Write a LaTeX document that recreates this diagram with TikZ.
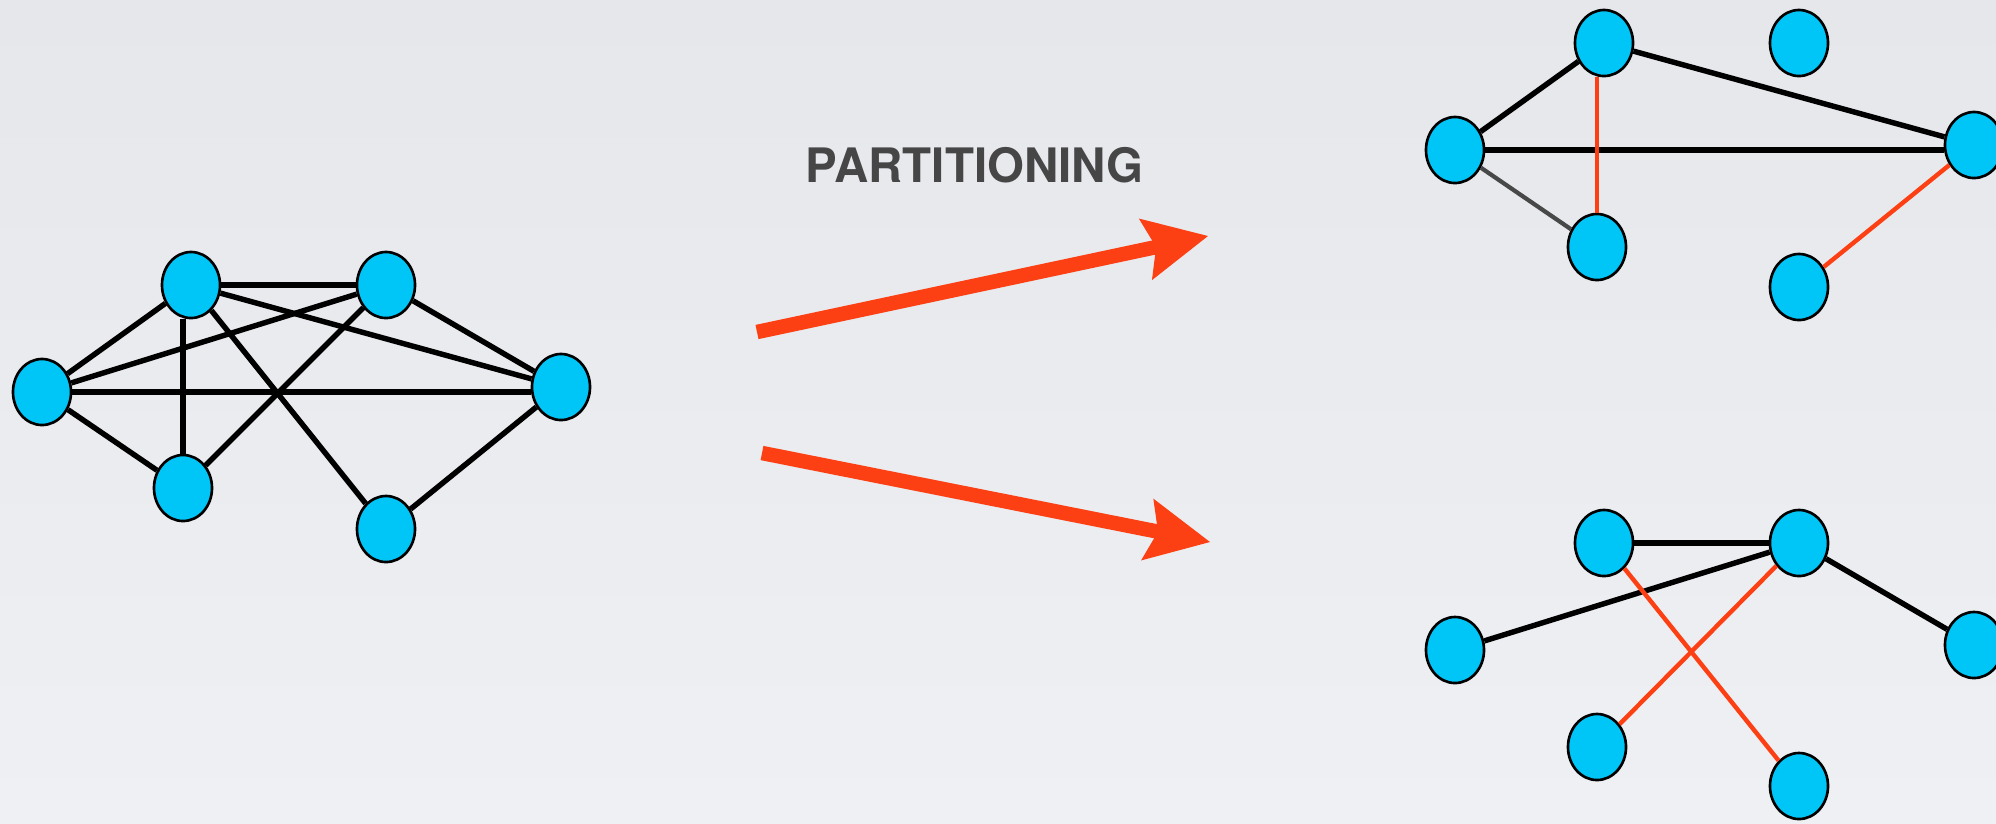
\documentclass[tikz,border=0pt]{standalone}
\usepackage{fontspec}
\setmainfont{Liberation Sans}
\newfontfamily\titlefont{TeX Gyre Heros}
\usetikzlibrary{arrows.meta,shapes.geometric}
\definecolor{bgtop}{RGB}{229,231,235}
\definecolor{bgbot}{RGB}{239,240,243}
\definecolor{vcyan}{RGB}{0,198,248}
\definecolor{ered}{RGB}{252,64,20}
\definecolor{txtgray}{RGB}{70,70,70}
\definecolor{egray}{RGB}{72,72,72}
\tikzset{
  vert/.style={ellipse, draw=black, line width=0.75pt, fill=vcyan,
    minimum width=0.58cm, minimum height=0.66cm, inner sep=0pt},
  bedge/.style={line width=1.55pt, black},
  redge/.style={line width=1.25pt, ered},
  gedge/.style={line width=1.2pt, egray},
  bigarrow/.style={ered, line width=0.145cm,
    -{Stealth[length=0.64cm, width=0.63cm, inset=0.11cm, line width=0pt]}},
  titletext/.style={text=txtgray, font=\titlefont\fontsize{13.5pt}{15pt}\selectfont\bfseries, inner sep=0pt}
}
\begin{document}
\begin{tikzpicture}[x=0.01cm, y=-0.01cm]
\useasboundingbox (0,0) rectangle (1996,823);
\shade[top color=bgtop, bottom color=bgbot] (0,0) rectangle (1996,823);
\clip (0,0) rectangle (1996,823);

% left graph
\node[vert] (A) at (42,392) {};
\node[vert] (B) at (191,285) {};
\node[vert] (C) at (386,285) {};
\node[vert] (D) at (561,387) {};
\node[vert] (E) at (183,488) {};
\node[vert] (F) at (386,529) {};
\draw[bedge] (A) -- (B);
\draw[bedge] (A) -- (C);
\draw[bedge] (A.east) -- (A.east -| D.west);
\draw[bedge] (A) -- (E);
\draw[bedge] (B) -- (C);
\draw[bedge] (B) -- (D);
\draw[bedge] (E |- B.south) -- (E.north);
\draw[bedge] (B) -- (F);
\draw[bedge] (C) -- (E);
\draw[bedge] (C) -- (D);
\draw[bedge] (D) -- (F);

% title and arrows
\node[titletext, anchor=base] (title) at (974.5,182) {PARTITIONING};
\coordinate (a1s) at (757,332);
\coordinate (a1e) at (1208,236);
\coordinate (a2s) at (762,453);
\coordinate (a2e) at (1210,542);
\draw[bigarrow] (a1s) -- (a1e);
\draw[bigarrow] (a2s) -- (a2e);

% top right graph
\node[vert] (P) at (1455,150) {};
\node[vert] (Q) at (1604,43) {};
\node[vert] (R) at (1799,43) {};
\node[vert] (S) at (1974,145) {};
\node[vert] (T) at (1597,247) {};
\node[vert] (U) at (1799,287) {};
\draw[bedge] (P) -- (Q);
\draw[bedge] (Q) -- (S);
\draw[bedge] (P.east) -- (P.east -| S.west);
\draw[gedge] (P) -- (T);
\draw[redge] (T |- Q.south) -- (T.north);
\draw[redge] (S) -- (U);

% bottom right graph
\node[vert] (G) at (1604,543) {};
\node[vert] (H) at (1799,543) {};
\node[vert] (I) at (1455,650) {};
\node[vert] (J) at (1974,645) {};
\node[vert] (K) at (1597,747) {};
\node[vert] (L) at (1799,786) {};
\draw[bedge] (G) -- (H);
\draw[bedge] (I) -- (H);
\draw[bedge] (H) -- (J);
\draw[redge] (G) -- (L);
\draw[redge] (H) -- (K);
\end{tikzpicture}
\end{document}
